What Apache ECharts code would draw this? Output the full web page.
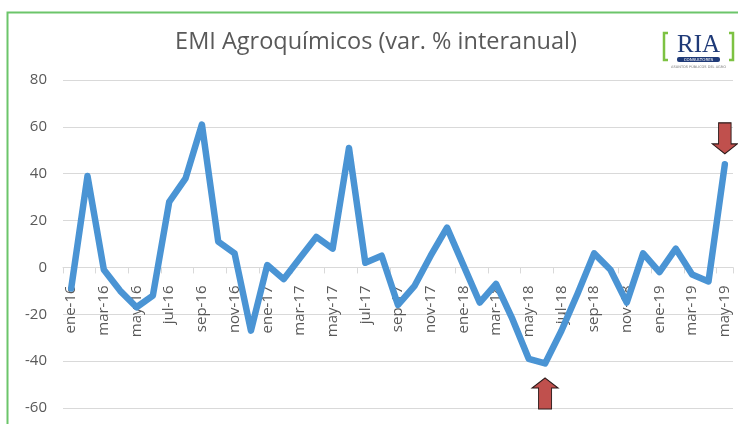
<!DOCTYPE html>
<html>
<head>
<meta charset="utf-8">
<script src="https://cdn.jsdelivr.net/npm/echarts@6/dist/echarts.min.js"></script>
<style>
  html, body { margin: 0; padding: 0; background: #fff; }
  #chart { width: 738px; height: 424px; }
</style>
</head>
<body>
<div id="chart"></div>
<script>
// meses ene-16 .. may-19
var months = ['ene', 'feb', 'mar', 'abr', 'may', 'jun', 'jul', 'ago', 'sep', 'oct', 'nov', 'dic']
var years = ['16', '17', '18', '19']
var categories = []
years.forEach(function (y) {
  months.forEach(function (m) {
    if (categories.length < 41) categories.push(m + '-' + y)
  })
})

// EMI Agroquímicos, var. % interanual
var emiValues = [
  -9, 39, -1, -10, -17, -12, 28, 38, 61, 11, 6, -27,
  1, -5, 4, 13, 8, 51, 2, 5, -16, -8, 5, 17,
  1, -15, -7, -22, -39, -41, -27, -11, 6, -1, -15, 6,
  -2, 8, -3, -6, 44
]

var yTicks = [-60, -40, -20, 0, 20, 40, 60, 80]

// flechas marcadas en el gráfico
var arrowDown = { month: 'may-19', value: 44 }
var arrowUp = { month: 'jun-18', value: -41 }

var myChart = echarts.init(document.getElementById('chart'))

var downPath = 'path://M3.5,0 L10.5,0 L10.5,19 L14,19 L7,28 L0,19 L3.5,19 Z'
var upPath = 'path://M7,0 L14,9 L10.5,9 L10.5,28 L3.5,28 L3.5,9 L0,9 Z'

// the category axis sits on the zero line, like in Excel
var gridTop = 80
var gridBottom = 16
var gridHeight = 424 - gridTop - gridBottom
var yMin = yTicks[0]
var yMax = yTicks[yTicks.length - 1]
var zeroOffset = gridHeight * (0 - yMin) / (yMax - yMin)

var option = {
  animation: false,
  title: {
    text: 'EMI Agroquímicos (var. % interanual)',
    left: 371,
    textAlign: 'center',
    top: 25,
    textStyle: {
      fontFamily: 'Open Sans',
      fontSize: 23.5,
      fontWeight: 'normal',
      color: '#595959'
    }
  },
  grid: {
    left: 63,
    right: 5,
    top: gridTop,
    bottom: gridBottom,
    containLabel: false,
    outerBoundsMode: 'none'
  },
  xAxis: {
    type: 'category',
    data: categories,
    boundaryGap: true,
    offset: -zeroOffset,
    axisLine: { onZero: false, lineStyle: { color: '#d9d9d9', width: 1 } },
    axisTick: { show: true, interval: 1, length: 6, lineStyle: { color: '#d9d9d9' } },
    axisLabel: {
      interval: 1,
      rotate: 90,
      margin: 18,
      fontFamily: 'Open Sans',
      fontSize: 15,
      color: '#595959'
    }
  },
  yAxis: {
    type: 'value',
    min: yMin,
    max: yMax,
    interval: 20,
    axisLine: { show: false },
    axisTick: { show: false },
    splitLine: { lineStyle: { color: '#d9d9d9', width: 1 } },
    axisLabel: {
      margin: 16,
      fontFamily: 'Open Sans',
      fontSize: 15,
      color: '#595959'
    }
  },
  series: [
    {
      name: 'EMI Agroquímicos',
      type: 'line',
      data: emiValues,
      showSymbol: false,
      z: 3,
      lineStyle: { color: '#4a94d4', width: 6.5, join: 'round', cap: 'round' },
      markPoint: {
        silent: true,
        symbolKeepAspect: false,
        label: { show: false },
        itemStyle: { color: '#c0504d', borderColor: '#2b1a1a', borderWidth: 1 },
        data: [
          { coord: [arrowDown.month, arrowDown.value], symbol: downPath, symbolSize: [25, 31], symbolOffset: [0, -26] },
          { coord: [arrowUp.month, arrowUp.value], symbol: upPath, symbolSize: [26, 31], symbolOffset: [0, 30] }
        ]
      }
    }
  ],
  graphic: [
    // marco verde
    { type: 'polyline', shape: { points: [[7.5, 430], [7.5, 12.5], [745, 12.5]] }, style: { stroke: '#6cc56a', lineWidth: 2, fill: null } },
    // logo RIA
    { type: 'polyline', shape: { points: [[668, 33], [664, 33], [664, 60], [668, 60]] }, style: { stroke: '#7dc242', lineWidth: 2.5, fill: null } },
    { type: 'polyline', shape: { points: [[729, 33], [733, 33], [733, 60], [729, 60]] }, style: { stroke: '#7dc242', lineWidth: 2.5, fill: null } },
    { type: 'text', x: 698.5, y: 45, style: { text: 'RIA', font: '25px "Liberation Serif"', fill: '#1f3a78', align: 'center', verticalAlign: 'middle' } },
    { type: 'rect', shape: { x: 677, y: 57, width: 43, height: 5, r: 2 }, style: { fill: '#1f3a78' } },
    { type: 'text', x: 698.5, y: 59.5, style: { text: 'CONSULTORES', font: '4px "DejaVu Sans"', fill: '#ffffff', align: 'center', verticalAlign: 'middle' } },
    { type: 'text', x: 698.5, y: 67, style: { text: 'ASUNTOS PÚBLICOS DEL AGRO', font: '3.5px "DejaVu Sans"', fill: '#777777', align: 'center', verticalAlign: 'middle' } }
  ]
}

myChart.setOption(option)
</script>
</body>
</html>
